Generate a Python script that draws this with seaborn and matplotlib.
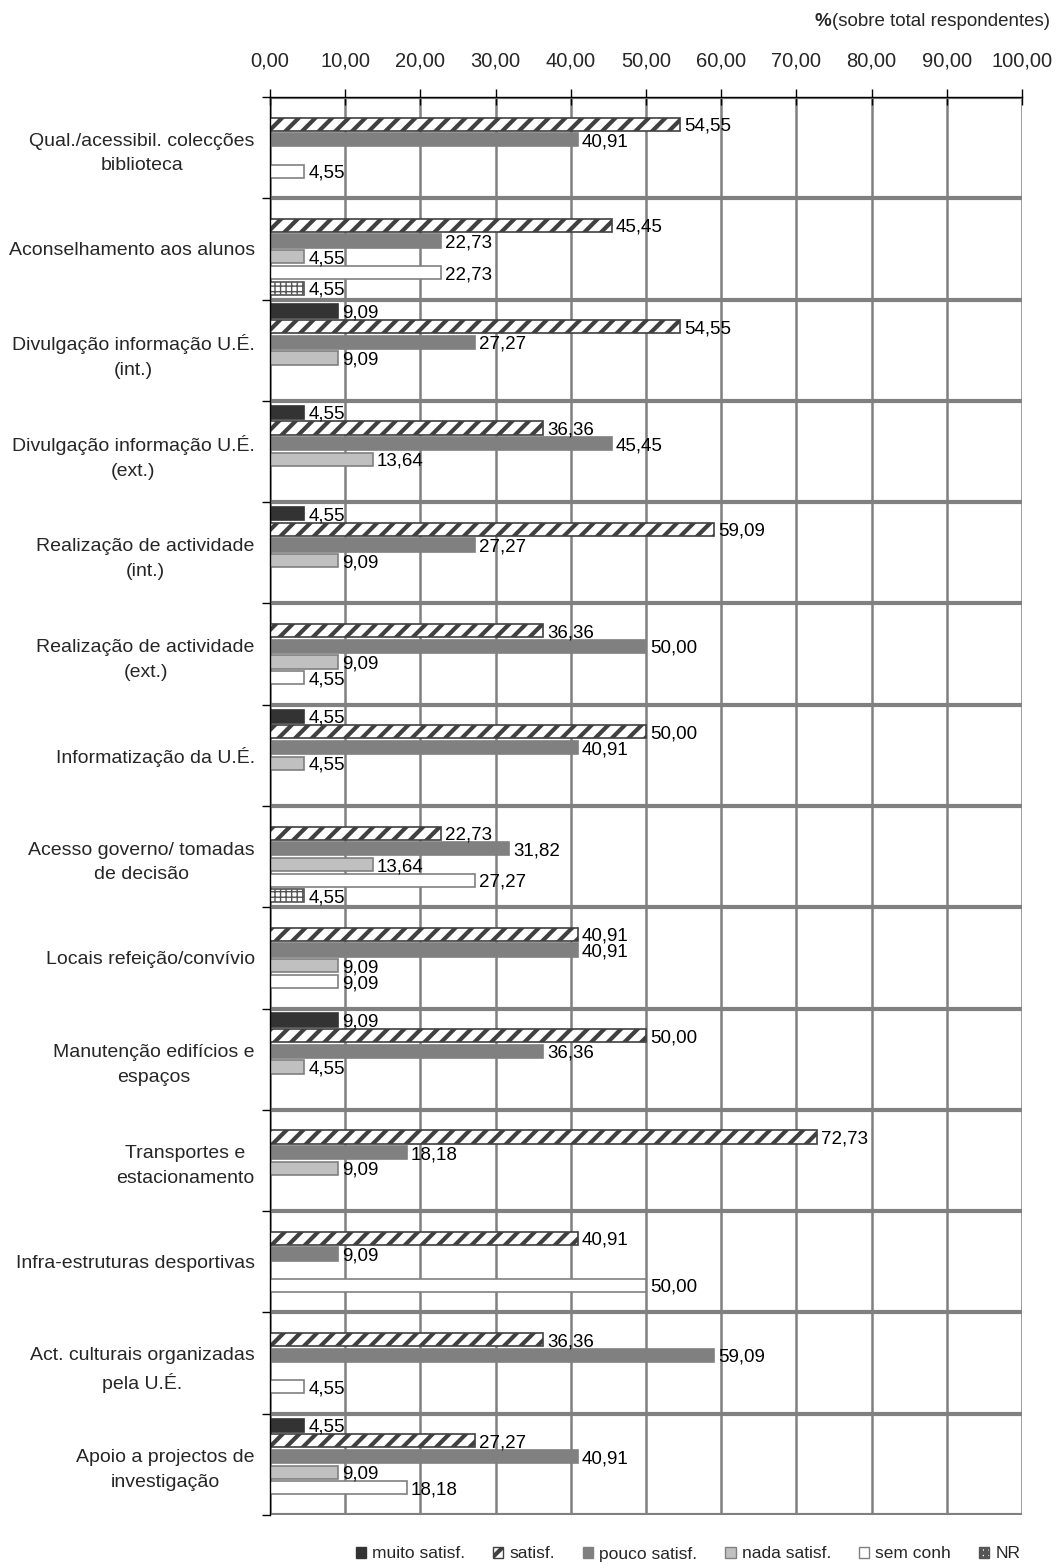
import matplotlib
matplotlib.use("Agg")
import matplotlib.pyplot as plt
import seaborn as sns
import pandas as pd
import numpy as np
from matplotlib.patches import Patch

categories = [
    "Qual./acessibil. colecções\nbiblioteca",
    "Aconselhamento aos alunos",
    "Divulgação informação U.É.\n(int.)",
    "Divulgação informação U.É.\n(ext.)",
    "Realização de actividade\n(int.)",
    "Realização de actividade\n(ext.)",
    "Informatização da U.É.",
    "Acesso governo/ tomadas\nde decisão",
    "Locais refeição/convívio",
    "Manutenção edifícios e\nespaços",
    "Transportes e\nestacionamento",
    "Infra-estruturas desportivas",
    "Act. culturais organizadas\npela U.É.",
    "Apoio a projectos de\ninvestigação",
]
series = ["muito satisf.", "satisf.", "pouco satisf.", "nada satisf.", "sem conh", "NR"]

muito_satisf = [0, 0, 9.09, 4.55, 4.55, 0, 4.55, 0, 0, 9.09, 0, 0, 0, 4.55]
satisf = [54.55, 45.45, 54.55, 36.36, 59.09, 36.36, 50.00, 22.73, 40.91, 50.00, 72.73, 40.91, 36.36, 27.27]
pouco_satisf = [40.91, 22.73, 27.27, 45.45, 27.27, 50.00, 40.91, 31.82, 40.91, 36.36, 18.18, 9.09, 59.09, 40.91]
nada_satisf = [0, 4.55, 9.09, 13.64, 9.09, 9.09, 4.55, 13.64, 9.09, 4.55, 9.09, 0, 0, 9.09]
sem_conh = [4.55, 22.73, 0, 0, 0, 4.55, 0, 27.27, 9.09, 0, 0, 50.00, 4.55, 18.18]
nr = [0, 4.55, 0, 0, 0, 0, 0, 4.55, 0, 0, 0, 0, 0, 0]

xticks = [0, 10, 20, 30, 40, 50, 60, 70, 80, 90, 100]

values = [muito_satisf, satisf, pouco_satisf, nada_satisf, sem_conh, nr]
rows = []
for s, vals in zip(series, values):
    for c, v in zip(categories, vals):
        rows.append({"cat": c, "serie": s, "val": v})
df = pd.DataFrame(rows)

sns.set_style("white")
plt.rcParams["font.family"] = ["Liberation Sans", "DejaVu Sans"]
plt.rcParams["hatch.linewidth"] = 3.0

fig = plt.figure(figsize=(10.57, 15.66), dpi=100)
ax = fig.add_axes([270 / 1057, 1 - 1515 / 1566, 752 / 1057, 1418 / 1566])

facecolors = ["#333333", "white", "#808080", "#c0c0c0", "white", "white"]
edgecolors = ["#333333", "#404040", "#808080", "#808080", "#808080", "#555555"]
hatches = [None, "//", None, None, None, "+++"]
hatch_lw = [None, 3.0, None, None, None, 1.0]

sns.barplot(data=df, y="cat", x="val", hue="serie", order=categories, hue_order=series,
            orient="h", width=0.93, gap=0.16, ax=ax, legend=False, errorbar=None,
            palette=facecolors, saturation=1)

for i, cont in enumerate(ax.containers):
    for p in cont:
        p.set_facecolor(facecolors[i])
        p.set_edgecolor(edgecolors[i])
        p.set_linewidth(1.2)
        if hatches[i]:
            p.set_hatch(hatches[i])
            if hasattr(p, "set_hatch_linewidth"):
                p.set_hatch_linewidth(hatch_lw[i])
            else:
                p._hatch_linewidth = hatch_lw[i]
    labs = [("%.2f" % v).replace(".", ",") if v > 0 else "" for v in cont.datavalues]
    anns = ax.bar_label(cont, labels=labs, padding=3, fontsize=13.5, color="black")
    for a in anns:
        a.set_va("center")
        a.xyann = (a.xyann[0], -1.5)

ax.set_xlim(0, 100)
ax.set_ylim(13.5, -0.5)
ax.set_xticks(xticks)
ax.set_xticklabels([("%.2f" % t).replace(".", ",") for t in xticks], fontsize=14.5)
ax.xaxis.tick_top()
ax.tick_params(axis="x", which="major", direction="inout", length=12, width=1, color="black", pad=13, top=True, bottom=False)
ax.set_yticks(range(len(categories)))
ax.set_yticklabels(categories, fontsize=14, multialignment="center", linespacing=1.6)
ax.tick_params(axis="y", which="major", length=0, pad=11)
ax.set_yticks(np.arange(-0.5, 14, 1), minor=True)
ax.tick_params(axis="y", which="minor", direction="out", length=6, width=1, color="black", left=True)
ax.set_xlabel("")
ax.set_ylabel("")

ax.grid(False)
ax.xaxis.grid(True, which="major", color="#808080", linewidth=1.8)
ax.yaxis.grid(True, which="minor", color="#808080", linewidth=3)
ax.set_axisbelow(True)
for side in ["right", "bottom"]:
    ax.spines[side].set_visible(False)
ax.spines["top"].set_color("black")
ax.spines["top"].set_linewidth(1)
ax.spines["left"].set_color("black")
ax.spines["left"].set_linewidth(1)
ax.spines["left"].set_zorder(5)

# legend
handles = [Patch(facecolor=facecolors[i], edgecolor=edgecolors[i], hatch=hatches[i], label=series[i]) for i in range(6)]
fig.legend(handles=handles, loc="center", bbox_to_anchor=(688 / 1057, 1 - 1554 / 1566), ncol=6,
           frameon=False, fontsize=12.5, handlelength=0.6, handleheight=0.6, columnspacing=1.6, handletextpad=0.35)

# axis title at top right
t2 = fig.text(1050 / 1057, 1 - 22 / 1566, "(sobre total respondentes)", ha="right", va="center", fontsize=13.5)
fig.canvas.draw()
bb = t2.get_window_extent()
fig.text(bb.x0 / fig.bbox.width - 0.001, 1 - 22 / 1566, "%", ha="right", va="center", fontsize=13.5, fontweight="bold")

fig.savefig("out.png", dpi=100)
